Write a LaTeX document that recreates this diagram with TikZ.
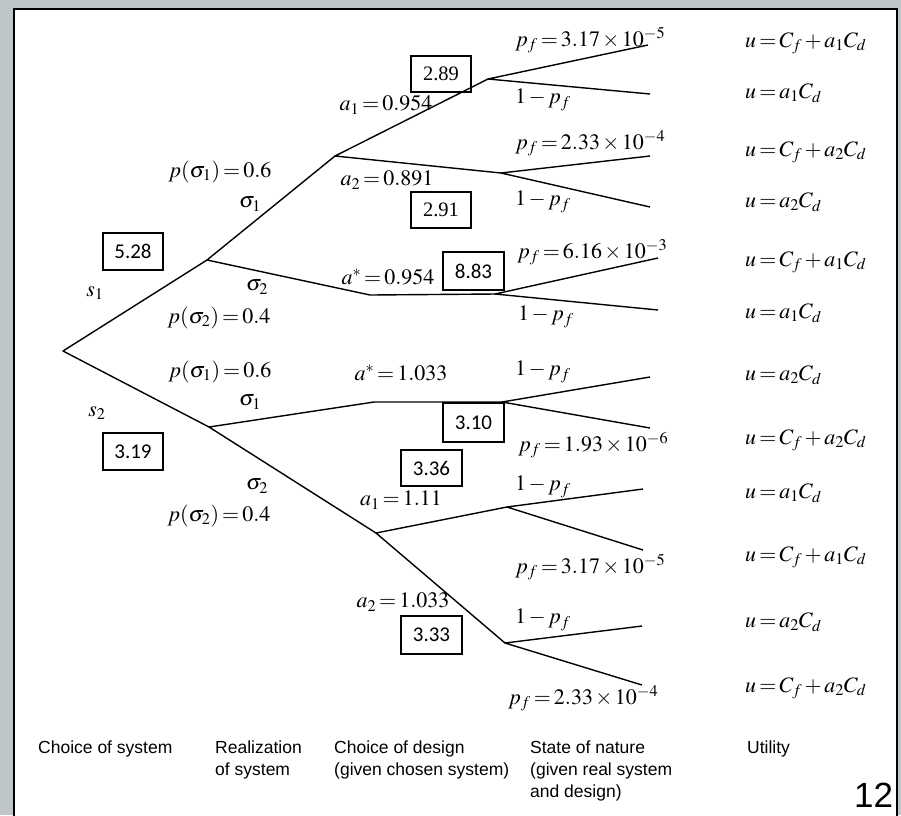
\documentclass[tikz,border=0pt]{standalone}
\usepackage[no-math]{fontspec}
\usepackage{mathptmx}
\setmainfont{Liberation Serif}
\newfontfamily\labelsans{Liberation Sans}
\newfontfamily\boxsans{Carlito}
\newfontfamily\boxserif{Liberation Serif}

\definecolor{frame}{HTML}{BFC6C9}

% tighter spacing around = + and x in the tree labels
\newcommand{\tightmath}{\thickmuskip=2.5mu\medmuskip=2mu}

\tikzset{
  branch/.style={line width=1.4pt, line join=round},
  lbl/.style={font=\fontsize{22}{26}\selectfont\tightmath, inner sep=0pt},
  leaflbl/.style={lbl, anchor=west},
  utillbl/.style={lbl, anchor=west},
  valbox/.style={draw, line width=1.3pt, inner sep=0pt,
    minimum width=60pt, minimum height=37pt,
    font=\boxsans\fontsize{21}{24}\selectfont},
  valboxserif/.style={valbox, font=\boxserif\fontsize{20.5}{24}\selectfont},
  stagelbl/.style={anchor=north west, inner sep=0pt, align=left,
    font=\labelsans\fontsize{17.5}{22}\selectfont},
}

\begin{document}
\begin{tikzpicture}[x=1pt, y=-1pt]
  \useasboundingbox (0,0) rectangle (901,815);
  % grey surround and white panel
  \fill[frame] (0,0) rectangle (901,815);
  \filldraw[fill=white, draw=black, line width=2.5pt] (14,9) -- (897,9) -- (897,820) -- (14,820) -- cycle;

  % tree points
  \coordinate (root) at (63,351);
  \coordinate (sys1) at (207,260);
  \coordinate (sys2) at (209,427);
  \coordinate (desA) at (335,156);
  \coordinate (bendA) at (370,295);
  \coordinate (bendB) at (374,402);
  \coordinate (desB) at (376,533);
  \coordinate (nat1) at (488,79);
  \coordinate (nat2) at (501,173);
  \coordinate (nat3) at (495,294);
  \coordinate (nat4) at (502,402);
  \coordinate (nat5) at (507,507);
  \coordinate (nat6) at (505,643);
  \coordinate (end1) at (648,45);
  \coordinate (end2) at (650,94);
  \coordinate (end3) at (650,156);
  \coordinate (end4) at (650,207);
  \coordinate (end5) at (658,258);
  \coordinate (end6) at (658,310);
  \coordinate (end7) at (650,377);
  \coordinate (end8) at (650,428);
  \coordinate (end9) at (643,489);
  \coordinate (end10) at (643,550);
  \coordinate (end11) at (642,626);
  \coordinate (end12) at (642,685);

  % branches
  \draw[branch] (sys1) -- (root) -- (sys2);
  \draw[branch] (desA) -- (sys1) -- (bendA) -- (nat3);
  \draw[branch] (nat4) -- (bendB) -- (sys2) -- (desB);
  \draw[branch] (nat1) -- (desA) -- (nat2);
  \draw[branch] (nat5) -- (desB) -- (nat6);
  \draw[branch] (end1) -- (nat1) -- (end2);
  \draw[branch] (end3) -- (nat2) -- (end4);
  \draw[branch] (end5) -- (nat3) -- (end6);
  \draw[branch] (end7) -- (nat4) -- (end8);
  \draw[branch] (end9) -- (nat5) -- (end10);
  \draw[branch] (end11) -- (nat6) -- (end12);

  % system choice labels
  \node[lbl] (ls1) at (95,293) {$s_1$};
  \node[lbl] (ls2) at (97,413) {$s_2$};

  % realization labels
  \node[lbl] (pA1) at (220,172) {$p(\sigma_1)=0.6$};
  \node[lbl] (sA1) at (250,204) {$\sigma_1$};
  \node[lbl] (sA2) at (257,287) {$\sigma_2$};
  \node[lbl] (pA2) at (219,318) {$p(\sigma_2)=0.4$};
  \node[lbl] (pB1) at (220,372) {$p(\sigma_1)=0.6$};
  \node[lbl] (sB1) at (250,402) {$\sigma_1$};
  \node[lbl] (sB2) at (257,486) {$\sigma_2$};
  \node[lbl] (pB2) at (219,516) {$p(\sigma_2)=0.4$};

  % design labels
  \node[lbl] (dA1) at (386,105) {$a_1=0.954$};
  \node[lbl] (dA2) at (387,180) {$a_2=0.891$};
  \node[lbl] (dAs) at (388,277) {$a^{*}=0.954$};
  \node[lbl] (dBs) at (401,373) {$a^{*}=1.033$};
  \node[lbl] (dB1) at (401,500) {$a_1=1.11$};
  \node[lbl] (dB2) at (403,602) {$a_2=1.033$};

  % state of nature labels
  \node[leaflbl] (f1) at (515,40)  {$p_f=3.17\times10^{-5}$};
  \node[leaflbl] (f2) at (515,100) {$1-p_f$};
  \node[leaflbl] (f3) at (515,143) {$p_f=2.33\times10^{-4}$};
  \node[leaflbl] (f4) at (515,202) {$1-p_f$};
  \node[leaflbl] (f5) at (517,252) {$p_f=6.16\times10^{-3}$};
  \node[leaflbl] (f6) at (518,317) {$1-p_f$};
  \node[leaflbl] (f7) at (515,372) {$1-p_f$};
  \node[leaflbl] (f8) at (518,445) {$p_f=1.93\times10^{-6}$};
  \node[leaflbl] (f9) at (515,487) {$1-p_f$};
  \node[leaflbl] (f10) at (515,567) {$p_f=3.17\times10^{-5}$};
  \node[leaflbl] (f11) at (515,620) {$1-p_f$};
  \node[leaflbl] (f12) at (508,698) {$p_f=2.33\times10^{-4}$};

  % utilities
  \node[utillbl] (u1) at (745,43)  {$u=C_f+a_1C_d$};
  \node[utillbl] (u2) at (745,93)  {$u=a_1C_d$};
  \node[utillbl] (u3) at (745,152) {$u=C_f+a_2C_d$};
  \node[utillbl] (u4) at (745,202) {$u=a_2C_d$};
  \node[utillbl] (u5) at (745,262) {$u=C_f+a_1C_d$};
  \node[utillbl] (u6) at (745,313) {$u=a_1C_d$};
  \node[utillbl] (u7) at (745,375) {$u=a_2C_d$};
  \node[utillbl] (u8) at (745,440) {$u=C_f+a_2C_d$};
  \node[utillbl] (u9) at (745,493) {$u=a_1C_d$};
  \node[utillbl] (u10) at (745,557) {$u=C_f+a_1C_d$};
  \node[utillbl] (u11) at (745,622) {$u=a_2C_d$};
  \node[utillbl] (u12) at (745,688) {$u=C_f+a_2C_d$};

  % expected values
  \node[valbox] (v528) at (133,251.5) {5.28};
  \node[valbox] (v319) at (133,451.5) {3.19};
  \node[valboxserif, minimum height=36pt] (v289) at (441,74) {2.89};
  \node[valboxserif, minimum height=36pt] (v291) at (441,210) {2.91};
  \node[valbox, minimum width=61pt, minimum height=38pt] (v883) at (473.5,271) {8.83};
  \node[valbox, minimum width=61pt, minimum height=39pt] (v310) at (473.5,422.5) {3.10};
  \node[valbox, minimum width=61pt, minimum height=36pt] (v336) at (431.5,468) {3.36};
  \node[valbox, minimum width=61pt, minimum height=38pt] (v333) at (431.5,635) {3.33};

  % stage captions
  \node[stagelbl] (c1) at (38,741) {Choice of system};
  \node[stagelbl] (c2) at (215,741) {Realization\\of system};
  \node[stagelbl] (c3) at (334,741) {Choice of design\\(given chosen system)};
  \node[stagelbl] (c4) at (530,741) {State of nature\\(given real system\\and design)};
  \node[stagelbl] (c5) at (747,741) {Utility};
  \node[anchor=south west, inner sep=0pt, font=\labelsans\fontsize{35}{40}\selectfont] (pgnum) at (854,808) {12};
\end{tikzpicture}
\end{document}
